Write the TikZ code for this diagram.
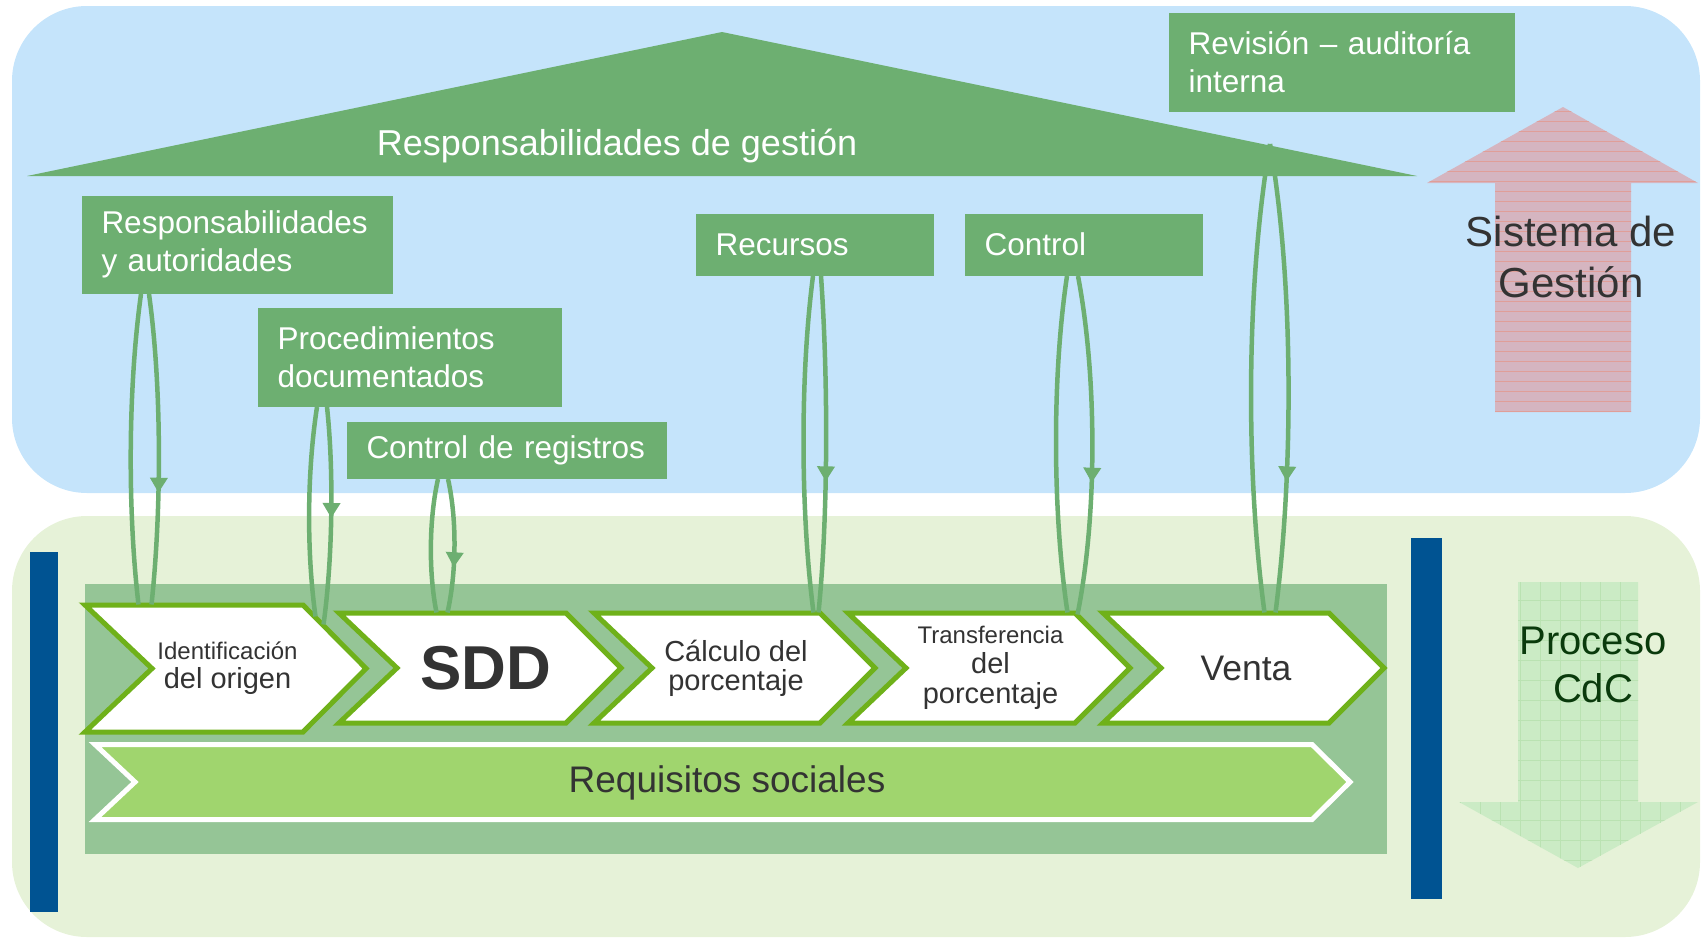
\documentclass[tikz,border=0pt]{standalone}
\usepackage{fontspec}
\setmainfont{Liberation Sans}
\usetikzlibrary{calc,arrows.meta,decorations.markings}

\definecolor{skyback}{RGB}{197,228,251}
\definecolor{leafback}{RGB}{230,242,216}
\definecolor{boxgreen}{RGB}{109,175,113}
\definecolor{framegreen}{RGB}{149,197,150}
\definecolor{chevedge}{RGB}{111,177,26}
\definecolor{reqgreen}{RGB}{160,213,110}
\definecolor{barblue}{RGB}{0,83,146}
\definecolor{inkgrey}{RGB}{51,51,51}
\definecolor{cdcgreen}{RGB}{10,58,12}
\definecolor{sgpink}{RGB}{213,181,192}
\definecolor{sgline}{RGB}{224,158,152}
\definecolor{cdcfill}{RGB}{203,235,197}
\definecolor{cdcgrid}{RGB}{186,226,178}

\tikzset{every picture/.style={line width=1pt}}
\tikzset{
  gbox/.style={fill=boxgreen, text=white, inner xsep=20, inner ysep=0, align=left, anchor=north west, font=\fontsize{31.5}{38}\selectfont},
  chevron/.style={fill=white, draw=chevedge, line width=5},
  chevtext/.style={text=inkgrey, align=center, inner sep=0, font=\fontsize{29}{29}\selectfont},
  loopline/.style={color=boxgreen, line width=4.5},
  midarrow/.style={postaction={decorate}, decoration={markings, mark=at position #1 with {\arrow{Triangle[width=17pt,length=15pt]}}}},
}

\begin{document}
\begin{tikzpicture}[x=1pt,y=1pt,yscale=-1,xscale=1]
\useasboundingbox (0,0) rectangle (1702,937);

%Rounded Rect: gestion band
\fill[skyback, rounded corners=75] (12,6) rectangle (1700,493);
%Rounded Rect: proceso band
\fill[leafback, rounded corners=75] (12,516) rectangle (1700,937);

%Shape: Rectangle [bars]
\fill[barblue] (30,552) rectangle (58,912);
\fill[barblue] (1411,538) rectangle (1442,899);
%Shape: Rectangle [frame]
\fill[framegreen] (85,584) rectangle (1387,854);

%Up Arrow: sistema de gestion
\begin{scope}
\clip (1563,107) -- (1698,183) -- (1631,183) -- (1631,412) -- (1495,412) -- (1495,183) -- (1427,183) -- cycle;
\fill[sgpink] (1420,100) rectangle (1700,415);
\foreach \y in {111,121,...,411} \draw[sgline, line width=0.6] (1420,\y) -- (1700,\y);
\end{scope}

%Down Arrow: proceso CdC
\begin{scope}
\clip (1518,582) -- (1638,582) -- (1638,802) -- (1698,802) -- (1578,868) -- (1459,802) -- (1518,802) -- cycle;
\fill[cdcfill] (1450,575) rectangle (1700,870);
\draw[cdcgrid, line width=0.6, step=20] (1450,575) grid (1700,870);
\end{scope}

%Triangle: roof
\fill[boxgreen] (27,176) -- (722,32) -- (1417,176) -- cycle;

%Chevrons
\draw[chevron] (85,605) -- (303,605) -- (366,668.5) -- (303,732) -- (85,732) -- (152,668.5) -- cycle;
\draw[chevron] (339,613) -- (566,613) -- (621,668) -- (566,723) -- (339,723) -- (397,668) -- cycle;
\draw[chevron] (594,613) -- (820,613) -- (875,668) -- (820,723) -- (594,723) -- (652,668) -- cycle;
\draw[chevron] (848,613) -- (1075,613) -- (1130,668) -- (1075,723) -- (848,723) -- (906,668) -- cycle;
\draw[chevron] (1103,613) -- (1329,613) -- (1384,668) -- (1329,723) -- (1103,723) -- (1161,668) -- cycle;
%Chevron: requisitos
\draw[fill=reqgreen, draw=white, line width=5] (95,744.5) -- (1312,744.5) -- (1350,782) -- (1312,819.5) -- (95,819.5) -- (135,782) -- cycle;

% Text Node
\node[gbox, text width=271, minimum height=98] (resp) at (81,195) {Responsabilidades\\y autoridades};
% Text Node
\node[gbox, text width=264, minimum height=99] (proc) at (257,307) {Procedimientos\\documentados};
% Text Node
\node[gbox, text width=280, minimum height=57] (creg) at (346,421) {Control de registros};
% Text Node
\node[gbox, text width=198, minimum height=62] (recu) at (695,213) {Recursos};
% Text Node
\node[gbox, text width=198, minimum height=62] (ctrl) at (964,213) {Control};
% Text Node
\node[gbox, text width=306, minimum height=99] (revi) at (1168,12) {Revisión – auditoría\\interna};

% Text Node
\node[text=white, inner sep=0, anchor=base, font=\fontsize{36}{40}\selectfont] (roof) at (617,155) {Responsabilidades de gestión};
\coordinate (roofpin) at (1270,144);
% Text Node
\node[text=inkgrey, align=center, inner sep=0, font=\fontsize{42}{51}\selectfont] (sisg) at (1571,257) {Sistema de\\Gestión};
% Text Node
\node[text=cdcgreen, align=center, inner sep=0, font=\fontsize{40}{48}\selectfont] (cdc) at (1593,665) {Proceso\\CdC};

% Text Node
\node[chevtext, minimum width=151, minimum height=127] (c1) at (227.5,668.5) {{\fontsize{24}{29}\selectfont Identificación}\\del origen};
% Text Node
\node[chevtext, minimum width=160, minimum height=110, font=\fontsize{62}{62}\selectfont\bfseries] (c2) at (486,668) {SDD};
% Text Node
\node[chevtext, minimum width=168, minimum height=110] (c3) at (736,668) {Cálculo del\\porcentaje};
% Text Node
\node[chevtext, minimum width=169, minimum height=110, font=\fontsize{29}{30}\selectfont] (c4) at (990.5,668) {{\fontsize{24}{30}\selectfont Transferencia}\\del\\porcentaje};
% Text Node
\node[chevtext, minimum width=168, minimum height=110, font=\fontsize{35.5}{40}\selectfont] (c5) at (1246,668) {Venta};
% Text Node
\node[text=inkgrey, inner sep=0, font=\fontsize{37}{40}\selectfont] (req) at (727,783) {Requisitos sociales};

%Curve Lines: loops
\draw[loopline] ($(resp.south west)+(60,0)$) .. controls +(-13,94) and +(-11,-94) .. ($(c1.north west)+(-13,0)$);
\draw[loopline, midarrow=0.64] ($(resp.south west)+(68,0)$) .. controls +(13,94) and +(10,-94) .. (c1.north west);
\draw[loopline] ($(proc.south west)+(60,0)$) .. controls +(-10,65) and +(-9,-65) .. ($(c1.north east)+(12,12)$);
\draw[loopline, midarrow=0.51] ($(proc.south west)+(70,0)$) .. controls +(7,65) and +(9,-65) .. ($(c1.north east)+(20,20)$);
\draw[loopline] ($(creg.south west)+(92,0)$) .. controls +(-9,40) and +(-8,-40) .. ($(c2.north west)+(31,0)$);
\draw[loopline, midarrow=0.66] ($(creg.south west)+(102,0)$) .. controls +(9,40) and +(9,-40) .. ($(c2.north west)+(42,0)$);
\draw[loopline] ($(recu.south west)+(118,0)$) .. controls +(-13,100) and +(-13,-100) .. ($(c3.north east)+(-7,0)$);
\draw[loopline, midarrow=0.61] ($(recu.south west)+(126,0)$) .. controls +(7,100) and +(10,-100) .. ($(c3.north east)+(-2,0)$);
\draw[loopline] ($(ctrl.south west)+(103,0)$) .. controls +(-15,100) and +(-15,-100) .. ($(c4.north east)+(-8,0)$);
\draw[loopline, midarrow=0.61] ($(ctrl.south west)+(114,0)$) .. controls +(19,100) and +(20,-100) .. ($(c4.north east)+(2,2)$);
\draw[loopline] (roofpin) .. controls +(-24,140) and +(-19,-140) .. ($(c5.north west)+(103,0)$);
\draw[loopline, midarrow=0.72] (roofpin) .. controls +(24,140) and +(18,-140) .. ($(c5.north west)+(114,0)$);

\end{tikzpicture}
\end{document}
